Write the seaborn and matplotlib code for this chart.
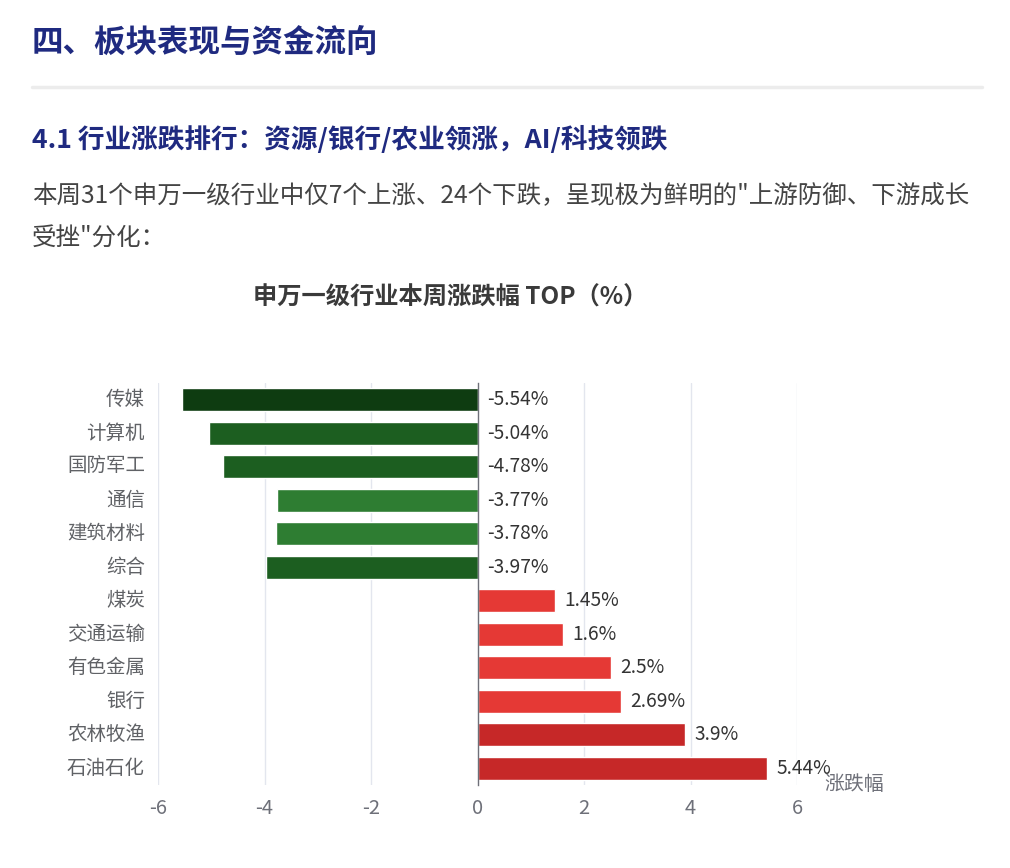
import matplotlib
matplotlib.use("Agg")
import matplotlib.pyplot as plt
import matplotlib.transforms as mtransforms
import seaborn as sns
import pandas as pd
import numpy as np

industries = ["传媒", "计算机", "国防军工", "通信", "建筑材料", "综合",
              "煤炭", "交通运输", "有色金属", "银行", "农林牧渔", "石油石化"]
changes = [-5.54, -5.04, -4.78, -3.77, -3.78, -3.97,
           1.45, 1.6, 2.5, 2.69, 3.9, 5.44]
bar_colors = ["#0e3c11", "#1c5e20", "#1c5e20", "#2e7d32", "#2e7d32", "#1c5e20",
              "#e53935", "#e53935", "#e53935", "#e53935", "#c62828", "#c62828"]
x_ticks = [-6, -4, -2, 0, 2, 4, 6]

page_title = "四、板块表现与资金流向"
sub_title = "4.1 行业涨跌排行：资源/银行/农业领涨，AI/科技领跌"
para_1 = "本周31个申万一级行业中仅7个上涨、24个下跌，呈现极为鲜明的\"上游防御、下游成长"
para_2 = "受挫\"分化："
chart_title = "申万一级行业本周涨跌幅 TOP（%）"
axis_name = "涨跌幅"

sns.set_theme(style="white")
plt.rcParams['font.family'] = ['Noto Sans CJK SC', 'DejaVu Sans']
plt.rcParams['axes.unicode_minus'] = False

W, H = 1010, 868
fig = plt.figure(figsize=(W / 100, H / 100), dpi=100)
fig.patch.set_facecolor("white")

L, R, T, B = 158, 797, 383, 785
ax = fig.add_axes([L / W, 1 - B / H, (R - L) / W, (B - T) / H])

df = pd.DataFrame({"industry": industries, "change": changes})
palette = dict(zip(industries, bar_colors))
sns.barplot(data=df, y="industry", x="change", hue="industry", palette=palette,
            order=industries, hue_order=industries, orient="h", legend=False,
            width=0.68, saturation=1, ax=ax, zorder=3)

ax.set_xlim(x_ticks[0], x_ticks[-1])
ax.set_ylim(len(industries) - 0.5, -0.5)
ax.set_xlabel("")
ax.set_ylabel("")

# grid
for xv in x_ticks:
    if xv != 0:
        ax.axvline(xv, color="#e3e6ee", lw=1.0, zorder=1)

for s in ["top", "right", "bottom"]:
    ax.spines[s].set_visible(False)
ax.spines["left"].set_position(("data", 0))
ax.spines["left"].set_color("#6e7079")
ax.spines["left"].set_linewidth(1.0)
ax.spines["left"].set_zorder(4)

ax.set_xticks(x_ticks)
ax.set_xticklabels([f"{v:g}" for v in x_ticks], fontsize=14.5, color="#6e7079",
                   family=['Noto Sans CJK SC', 'DejaVu Sans'])
ax.tick_params(axis="x", length=0, pad=9)

ax.set_yticks(np.arange(len(industries)))
ax.set_yticklabels([])
ax.tick_params(axis="y", which="major", length=0)
ax.set_yticks(np.arange(len(industries) + 1) - 0.5, minor=True)
ax.tick_params(axis="y", which="minor", length=5, width=1, color="#6e7079", direction="out")

# category labels on the left
trans = mtransforms.blended_transform_factory(ax.transAxes, ax.transData)
for i, name in enumerate(industries):
    ax.text(-13 / (R - L), i, name, transform=trans, ha="right", va="center",
            fontsize=14, color="#606266")

# value labels
for i, v in enumerate(changes):
    xpos = v if v > 0 else 0
    ax.annotate(f"{v:g}%", xy=(xpos, i), xytext=(7, 0), textcoords="offset points",
                ha="left", va="center", fontsize=13.8, color="#333333", zorder=5)

# axis name
ax.annotate(axis_name, xy=(1, 0), xycoords="axes fraction", xytext=(20, 0),
            textcoords="offset points", ha="left", va="center", fontsize=14.3,
            color="#6e7079")

# page header texts
fig.text(32 / W, 1 - 43 / H, page_title, fontsize=22.7, fontweight="bold",
         color="#1f2a80", ha="left", va="center")
fig.add_artist(plt.Line2D([32 / W, 982 / W], [1 - 87 / H, 1 - 87 / H],
                          color="#ececec", lw=2.5))
fig.text(32 / W, 1 - 140 / H, sub_title, fontsize=19.2, fontweight="bold",
         color="#1f2a80", ha="left", va="center")
fig.text(32 / W, 1 - 196 / H, para_1, fontsize=17.65, color="#444444",
         ha="left", va="center")
fig.text(32 / W, 1 - 239 / H, para_2, fontsize=17.65, color="#444444",
         ha="left", va="center")
fig.text(450 / W, 1 - 298 / H, chart_title, fontsize=17.5, fontweight="bold",
         color="#3a3a3a", ha="center", va="center")

fig.savefig("out.png", dpi=100, facecolor="white")
